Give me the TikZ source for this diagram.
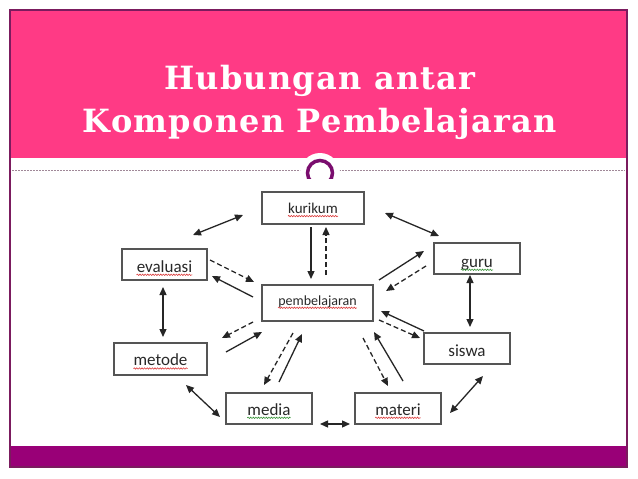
\documentclass[tikz,border=0pt]{standalone}
\usepackage{fontspec}
\setmainfont{Carlito}
\newfontfamily\titlefont{DejaVu Serif}[LetterSpace=4]
\usetikzlibrary{arrows.meta,calc,decorations.pathmorphing}
\definecolor{hdrpink}{RGB}{255,58,133}
\definecolor{barpurple}{RGB}{153,0,119}
\definecolor{framecol}{RGB}{123,27,94}
\definecolor{ringcol}{RGB}{122,13,110}
\definecolor{dashcol}{RGB}{160,136,152}
\definecolor{boxline}{RGB}{85,85,85}
\definecolor{txtcol}{RGB}{40,40,40}
\definecolor{spellred}{RGB}{220,60,60}
\definecolor{spellgreen}{RGB}{60,150,60}
\newcommand\mywavy[2]{\draw[squiggle,#2] ([yshift=-2.8pt]#1.base west) -- ([yshift=-2.8pt]#1.base east);}
\begin{document}
\begin{tikzpicture}[x=1pt,y=-1pt,
  box/.style={draw=boxline,line width=1.3pt,fill=white,inner sep=0pt},
  lbl/.style={inner sep=0pt,anchor=base,text=txtcol,font=\fontsize{17}{20}\selectfont},
  arr/.style={-{Triangle[length=8pt,width=7pt]},line width=1.3pt,draw=black!85},
  darr/.style={{Triangle[length=8pt,width=7pt]}-{Triangle[length=8pt,width=7pt]},line width=1.3pt,draw=black!85},
  dsh/.style={dash pattern=on 5pt off 3pt},
  squiggle/.style={line width=0.6pt,decorate,decoration={snake,amplitude=0.7pt,segment length=2.6pt}},
  ttl/.style={text=white,font=\titlefont\bfseries\fontsize{32}{35}\selectfont,inner sep=0pt,anchor=base}]
\useasboundingbox (0,0) rectangle (638,479);
% slide background
\fill[white] (0,0) rectangle (638,479);
\fill[hdrpink] (10,10) rectangle (627,158);
\fill[barpurple] (10,446) rectangle (627,467);
\draw[dashcol,line width=0.6pt,dash pattern=on 2pt off 1pt] (12,170) -- (625,170);
\draw[framecol,line width=1.1pt] (10,10) rectangle (627,467);
% ring ornament
\fill[white] (320,173) circle[radius=20];
\begin{scope}
  \clip (290,140) rectangle (350,178);
  \draw[ringcol,line width=3.5pt] (320,173) circle[radius=12.5];
\end{scope}
% title
\node[ttl] (t1) at (320,89) {Hubungan antar};
\node[ttl] (t2) at (320,132) {Komponen Pembelajaran};
% boxes
\node[box,minimum width=102pt,minimum height=32pt] (kur) at (313,208) {};
\node[box,minimum width=85pt,minimum height=31pt] (eva) at (164.5,264.5) {};
\node[box,minimum width=111pt,minimum height=36pt] (pem) at (317.5,303) {};
\node[box,minimum width=86pt,minimum height=31pt] (guru) at (477,258.5) {};
\node[box,minimum width=86pt,minimum height=31pt] (sis) at (467,348.5) {};
\node[box,minimum width=93pt,minimum height=32pt] (met) at (160.5,359) {};
\node[box,minimum width=86pt,minimum height=31pt] (med) at (269,408.5) {};
\node[box,minimum width=86pt,minimum height=31pt] (mat) at (398,408.5) {};
% labels
\node[lbl,font=\fontsize{15}{18}\selectfont] (kurt) at ($(kur)+(0,5.3)$) {kurikum};
\node[lbl] (evat) at ($(eva)+(0,7.5)$) {evaluasi};
\node[lbl,font=\fontsize{14}{17}\selectfont] (pemt) at ($(pem)+(0,2)$) {pembelajaran};
\node[lbl] (gurut) at ($(guru)+(0,8.5)$) {guru};
\node[lbl] (sist) at ($(sis)+(0,7.5)$) {siswa};
\node[lbl] (mett) at ($(met)+(0,6.7)$) {metode};
\node[lbl] (medt) at ($(med)+(0,6.5)$) {media};
\node[lbl] (matt) at ($(mat)+(0,6.5)$) {materi};
\mywavy{kurt}{spellred}
\mywavy{evat}{spellred}
\mywavy{pemt}{spellred}
\mywavy{mett}{spellred}
\mywavy{matt}{spellred}
\mywavy{gurut}{spellgreen}
\mywavy{medt}{spellgreen}
% connectors
\draw[darr] ($(kur)+(-70,7)$) -- ($(eva)+(28.5,-29.5)$);
\draw[arr] ($(kur)+(-2,19)$) -- ($(pem)+(-6.5,-24)$);
\draw[arr,dsh] ($(pem)+(8.5,-28)$) -- ($(kur)+(13,19)$);
\draw[arr,dsh] ($(eva)+(45.5,-4.5)$) -- ($(pem)+(-63.5,-21)$);
\draw[arr] ($(pem)+(-64.5,-6)$) -- ($(eva)+(47.5,11.5)$);
\draw[darr] ($(eva)+(-1.5,22.5)$) -- ($(met)+(2.5,-22)$);
\draw[darr] ($(kur)+(72,5)$) -- ($(guru)+(-38,-22.5)$);
\draw[arr] ($(pem)+(61.5,-23)$) -- ($(guru)+(-53,-7.5)$);
\draw[arr,dsh] ($(guru)+(-51,7.5)$) -- ($(pem)+(68.5,-12)$);
\draw[darr] ($(guru)+(-7,16.5)$) -- ($(sis)+(3,-21.5)$);
\draw[arr] ($(sis)+(-43,-17.5)$) -- ($(pem)+(63.5,8)$);
\draw[arr,dsh] ($(pem)+(61.5,17)$) -- ($(sis)+(-47,-10.5)$);
\draw[arr,dsh] ($(pem)+(-64.5,19)$) -- ($(met)+(61.5,-21)$);
\draw[arr] ($(met)+(65.5,-7)$) -- ($(pem)+(-55.5,29)$);
\draw[arr,dsh] ($(pem)+(-24.5,30)$) -- ($(med)+(-5,-23.5)$);
\draw[arr] ($(med)+(10,-26.5)$) -- ($(pem)+(-15.5,31)$);
\draw[arr,dsh] ($(pem)+(45.5,35)$) -- ($(mat)+(-10,-22.5)$);
\draw[arr] ($(mat)+(5,-27.5)$) -- ($(pem)+(56.5,29)$);
\draw[darr] ($(met)+(25.5,26)$) -- ($(med)+(-49,8.5)$);
\draw[darr] ($(med)+(51,15.5)$) -- ($(mat)+(-48,15.5)$);
\draw[darr] ($(sis)+(16,27.5)$) -- ($(mat)+(52,4.5)$);
\end{tikzpicture}
\end{document}
